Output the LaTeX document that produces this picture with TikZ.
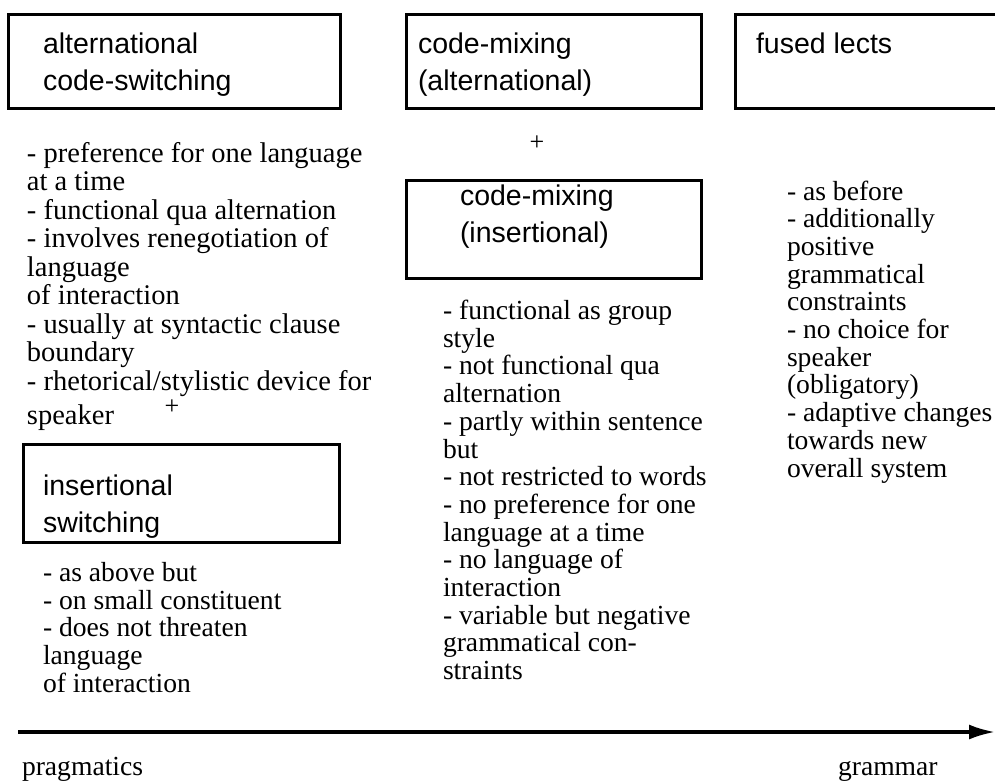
\documentclass[tikz,border=0pt]{standalone}
\usepackage{fontspec}
\setmainfont{Liberation Serif}
\newfontfamily\labsans{Liberation Sans}
\usetikzlibrary{arrows.meta}
\newcommand{\topstrut}[1]{\rule{0pt}{#1}}
\begin{document}
\begin{tikzpicture}[x=1pt,y=-1pt,
  framebox/.style={draw, line width=3pt, rectangle, inner sep=0pt, outer sep=0pt, anchor=north west},
  boxtext/.style={anchor=north west, inner sep=0pt, outer sep=0pt, align=left,
    font={\labsans\fontsize{28.5}{37}\selectfont\lineskiplimit=-100pt}},
  listtext/.style={anchor=north west, inner sep=0pt, outer sep=0pt, align=left,
    font={\fontsize{27.6}{27.7}\selectfont\lineskiplimit=-100pt}},
  bigtext/.style={anchor=north west, inner sep=0pt, outer sep=0pt, align=left,
    font={\fontsize{28.5}{28.5}\selectfont\lineskiplimit=-100pt}},
  axislabel/.style={anchor=base west, inner sep=0pt, outer sep=0pt, font={\fontsize{27.6}{27.7}\selectfont}},
  plussign/.style={inner sep=0pt, outer sep=0pt, font={\fontsize{26}{26}\selectfont}},
  axisline/.style={line width=3.2pt, -{Latex[length=26pt,width=15pt]}}
]
\useasboundingbox (0,0) rectangle (995,780);

% boxes
\node[framebox, minimum width=332pt, minimum height=94pt] (b1) at (8,14) {};
\node[framebox, minimum width=295pt, minimum height=94pt] (b2) at (406,14) {};
\node[framebox, minimum width=270pt, minimum height=94pt] (b3) at (735,14) {};
\node[framebox, minimum width=295pt, minimum height=98pt] (b4) at (406,180) {};
\node[framebox, minimum width=316pt, minimum height=98pt] (b5) at (23,444) {};

% box texts
\node[boxtext] (t1) at (43,29) {\topstrut{24pt}alternational\\code-switching};
\node[boxtext] (t2) at (418,29) {\topstrut{24pt}code-mixing\\(alternational)};
\node[boxtext] (t3) at (756,29) {\topstrut{24pt}fused lects};
\node[boxtext] (t4) at (460,181) {\topstrut{24pt}code-mixing\\(insertional)};
\node[boxtext] (t5) at (43,471) {\topstrut{24pt}insertional\\switching};

% plus signs
\node[plussign] (plus1) at (537,143) {+};
\node[plussign] (plus2) at (172,407) {+};

% lists
\node[bigtext] (l1) at (27,139) {\topstrut{23pt}- preference for one language\\
at a time\\
- functional qua alternation\\
- involves renegotiation of\\
language\\
of interaction\\
- usually at syntactic clause\\
boundary\\
- rhetorical/stylistic device for\\[5.5pt]
speaker};

\node[listtext] (l2) at (443,297.5) {\topstrut{22pt}- functional as group\\
style\\
- not functional qua\\
alternation\\
- partly within sentence\\
but\\
- not restricted to words\\
- no preference for one\\
language at a time\\
- no language of\\
interaction\\
- variable but negative\\
grammatical con-\\
straints};

\node[listtext] (l3) at (787,178) {\topstrut{22pt}- as before\\
- additionally\\
positive\\
grammatical\\
constraints\\
- no choice for\\
speaker\\
(obligatory)\\
- adaptive changes\\
towards new\\
overall system};

\node[listtext] (l4) at (43,559.5) {\topstrut{22pt}- as above but\\
- on small constituent\\
- does not threaten\\
language\\
of interaction};

% axis
\coordinate (axL) at (18,732);
\coordinate (axR) at (995,732);
\draw[axisline] (axL) -- (axR);
\node[axislabel] (prag) at (22,775) {pragmatics};
\node[axislabel] (gram) at (838,775) {grammar};
\end{tikzpicture}
\end{document}
